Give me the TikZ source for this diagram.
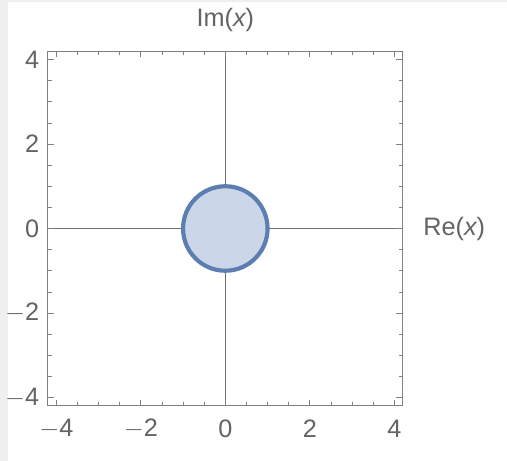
\documentclass[tikz,border=0pt]{standalone}
\usepackage{fontspec}
\setsansfont{Liberation Sans}
\usepackage{tikz}
\usetikzlibrary{positioning}
\definecolor{framegray}{RGB}{128,128,128}
\definecolor{axisgray}{RGB}{110,110,110}
\definecolor{labelgray}{RGB}{100,100,100}
\definecolor{diskblue}{RGB}{92,126,176}
\definecolor{disklight}{RGB}{203,214,232}
\definecolor{stripgray}{RGB}{239,239,239}
\begin{document}
\begin{tikzpicture}[
  frameline/.style={draw=framegray, line width=0.7pt},
  axisline/.style={draw=axisgray, line width=0.6pt},
  majortick/.style={draw=framegray, line width=0.6pt},
  minortick/.style={draw=framegray, line width=0.4pt},
  ticklabel/.style={font=\sffamily\fontsize{17}{20}\selectfont, text=labelgray, inner sep=0pt},
  axislabel/.style={font=\sffamily\fontsize{17}{20}\selectfont, text=labelgray, inner sep=0pt},
  disk/.style={draw=diskblue, fill=disklight, line width=2.8pt}
]
  % page and the grey strips round it
  \useasboundingbox (-5.333,-5.503) rectangle (6.667,5.408);
  \fill[white] (-5.333,-5.503) rectangle (6.667,5.408);
  \fill[stripgray] (-5.333,-5.503) rectangle (-5.14,5.408);
  \fill[stripgray] (-5.333,5.36) rectangle (6.667,5.408);

  % axes through the origin
  \draw[axisline] (-4.2,0) -- (4.2,0);
  \draw[axisline] (0,-4.2) -- (0,4.2);

  % the unit disk
  \draw[disk] (0,0) circle (1);

  % frame
  \draw[frameline] (-4.2,-4.2) rectangle (4.2,4.2);

  % ticks on all four sides
  \foreach \t in {-4,-2,0,2,4} {
    \draw[majortick] (\t,-4.2) -- ++(0,0.15);
    \draw[majortick] (\t,4.2) -- ++(0,-0.15);
    \draw[majortick] (-4.2,\t) -- ++(0.15,0);
    \draw[majortick] (4.2,\t) -- ++(-0.15,0);
  }
  \foreach \t in {-3.5,-3,-2.5,-1.5,-1,-0.5,0.5,1,1.5,2.5,3,3.5} {
    \draw[minortick] (\t,-4.2) -- ++(0,0.09);
    \draw[minortick] (\t,4.2) -- ++(0,-0.09);
    \draw[minortick] (-4.2,\t) -- ++(0.09,0);
    \draw[minortick] (4.2,\t) -- ++(-0.09,0);
  }

  % tick labels
  \node[ticklabel] (xm4) at (-4,-4.75) {$-$4};
  \node[ticklabel] (xm2) at (-2,-4.75) {$-$2};
  \node[ticklabel] (x0)  at (0,-4.75)  {0};
  \node[ticklabel] (x2)  at (2,-4.75)  {2};
  \node[ticklabel] (x4)  at (4,-4.75)  {4};
  \node[ticklabel, anchor=east] (ym4) at (-4.4,-4) {$-$4};
  \node[ticklabel, anchor=east] (ym2) at (-4.4,-2) {$-$2};
  \node[ticklabel, anchor=east] (y0)  at (-4.4,0)  {0};
  \node[ticklabel, anchor=east] (y2)  at (-4.4,2)  {2};
  \node[ticklabel, anchor=east] (y4)  at (-4.4,4)  {4};

  % axis labels
  \node[axislabel] (imlab) at (0,4.93) {Im({\itshape x})};
  \node[axislabel, anchor=west] (relab) at (4.68,0) {Re({\itshape x})};
\end{tikzpicture}
\end{document}
